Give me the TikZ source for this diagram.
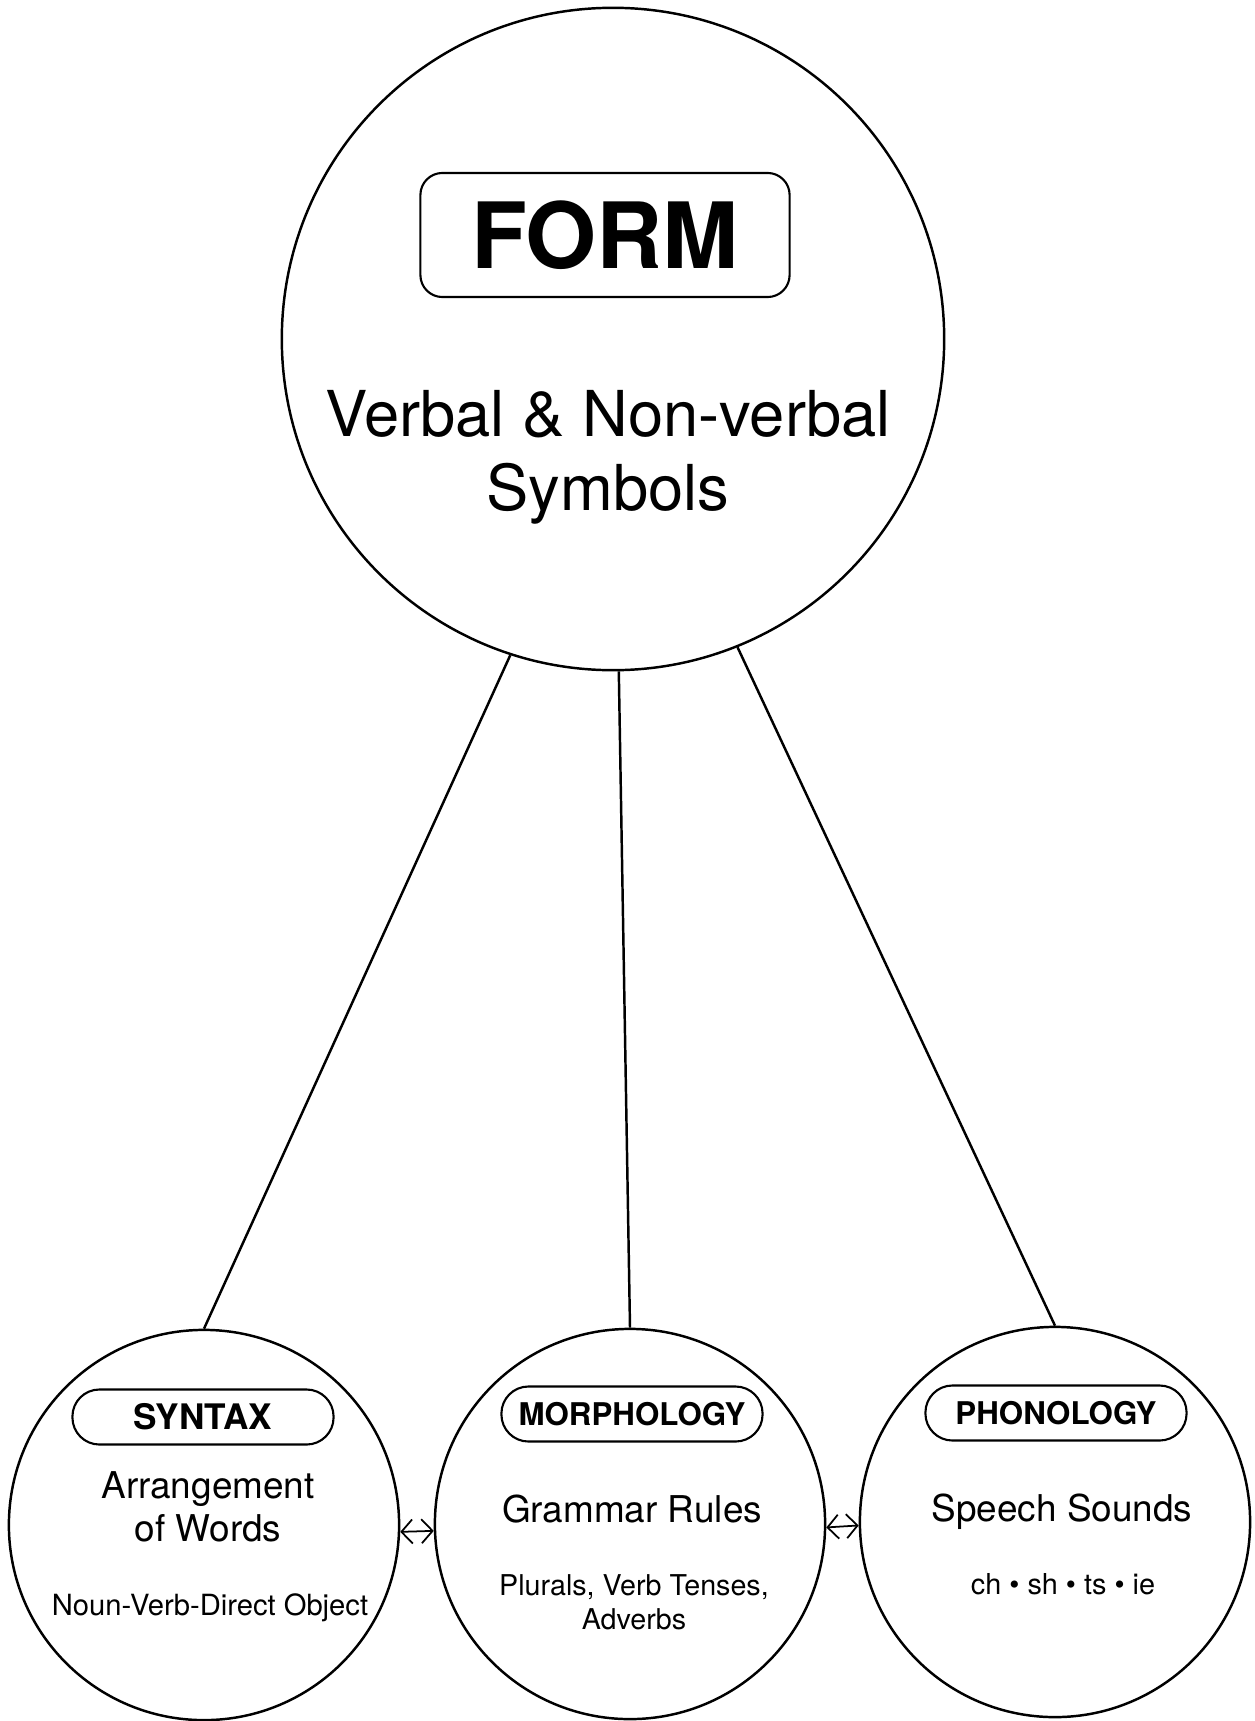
\documentclass[tikz,border=0pt]{standalone}
\usepackage{fontspec}
\setmainfont{TeX Gyre Heros}
\usetikzlibrary{arrows.meta}
\newcommand{\fsz}[2]{\fontsize{#1}{#2}\selectfont}

\begin{document}
\begin{tikzpicture}[x=0.01cm,y=-0.01cm,>={Straight Barb[length=1.1mm,width=2.4mm]},
 bigcirc/.style={draw,circle,line width=0.7pt,minimum size=6.62cm,inner sep=0pt},
 smallcirc/.style={draw,circle,line width=0.7pt,minimum size=3.9cm,inner sep=0pt},
 titlebox/.style={draw,rounded corners=2.7mm,line width=0.6pt,minimum width=2.61cm,minimum height=0.55cm,inner sep=0pt},
 link/.style={line width=0.7pt},
 arr/.style={<->,line width=0.5pt}]
\useasboundingbox (0,0) rectangle (1254,1721);
\node[bigcirc] (form) at (613,339) {};
\node[draw,rounded corners=2.2mm,line width=0.6pt,minimum width=3.69cm,minimum height=1.24cm,inner sep=0pt,font=\bfseries\fsz{26}{30}] (formlbl) at (605,235) {FORM};
\node[align=center,inner sep=0pt,font=\fsz{18}{21}] (formtxt) at (608,457) {Verbal \& Non-verbal\\Symbols};

\node[smallcirc] (syn) at (204,1525) {};
\node[smallcirc] (mor) at (630,1524) {};
\node[smallcirc] (pho) at (1055,1522) {};

\node[titlebox,font=\bfseries\fsz{10}{12}] (synlbl) at (203,1417) {SYNTAX};
\node[align=center,inner sep=0pt,font=\fsz{10.5}{12.2}] (syntxt) at (208,1507) {Arrangement\\of Words};
\node[anchor=base,inner sep=0pt,font=\fsz{8.3}{10}] (synex) at (210,1615) {Noun-Verb-Direct Object};

\node[titlebox,font=\bfseries\fsz{8.9}{11}] (morlbl) at (632,1414) {MORPHOLOGY};
\node[anchor=base,inner sep=0pt,font=\fsz{10.5}{12.2}] (mortxt) at (632,1522) {Grammar Rules};
\node[align=center,inner sep=0pt,font=\fsz{8.15}{9.7}] (morex) at (634,1602) {Plurals, Verb Tenses,\\Adverbs};

\node[titlebox,font=\bfseries\fsz{8.9}{11}] (pholbl) at (1056,1413) {PHONOLOGY};
\node[anchor=base,inner sep=0pt,font=\fsz{10.5}{12.2}] (photxt) at (1062,1521) {Speech Sounds};
\node[anchor=base,inner sep=0pt,font=\fsz{8.2}{10}] (phoex) at (1063,1594) {ch • sh • ts • ie};

\draw[link] (form.252) -- (syn.north);
\draw[link] (form.271.5) -- (mor.north);
\draw[link] (form.292) -- (pho.north);
\draw[arr] (syn.-2) -- (mor.182);
\draw[arr] (mor.-1.5) -- (pho.181.5);
\end{tikzpicture}
\end{document}
